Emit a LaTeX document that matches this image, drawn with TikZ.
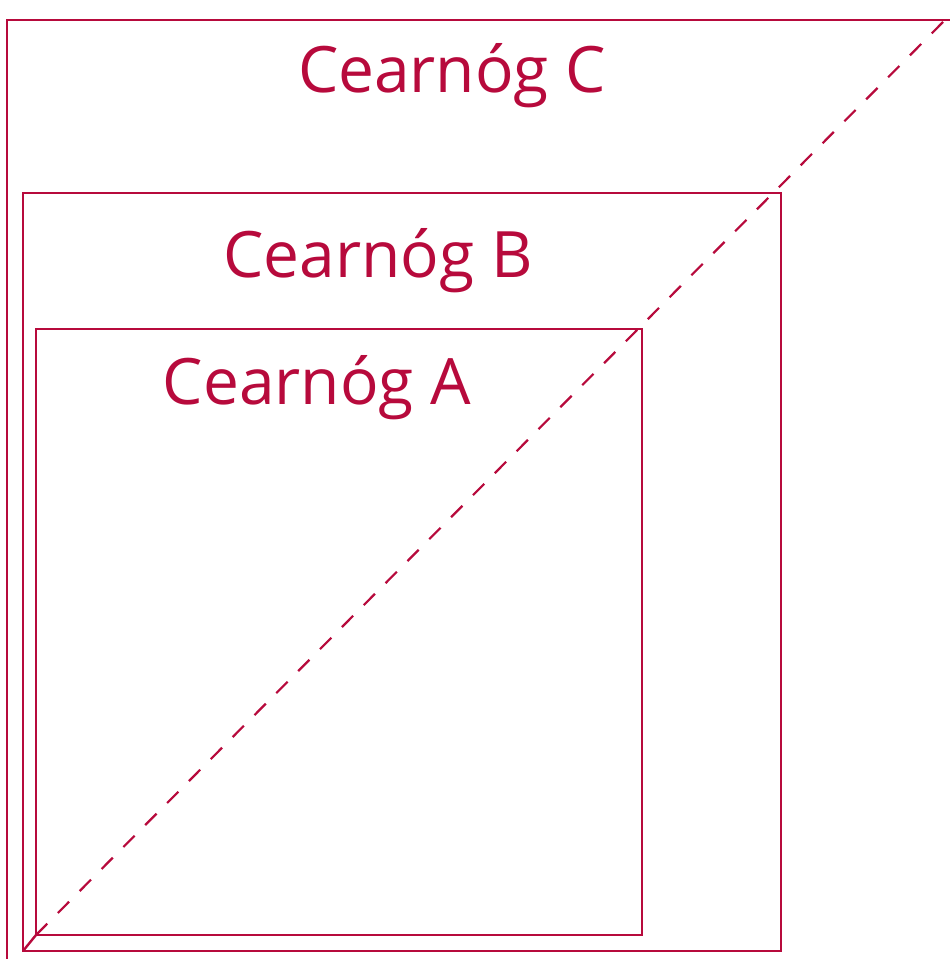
\documentclass[tikz,border=0pt]{standalone}
\usepackage{fontspec}
\setmainfont{Open Sans}
\definecolor{crim}{RGB}{183,10,60}
\tikzset{
  sq/.style={draw=crim, line width=2.4pt},
  lbl/.style={text=crim, font=\fontsize{64}{70}\selectfont, anchor=base, inner sep=0pt},
  diag/.style={draw=crim, line width=2.2pt, dash pattern=on 16pt off 15pt},
}
\begin{document}
\begin{tikzpicture}[x=1pt,y=-1pt]
\useasboundingbox (0,0) rectangle (950,959);
% corners
\coordinate (Cbl) at (7,980);
\coordinate (Ctr) at (960,20);
\coordinate (Bbl) at (23,951);
\coordinate (Btr) at (781,193);
\coordinate (Abl) at (36,935);
\coordinate (Atr) at (642,329);
\draw[sq] (Cbl) -- (7,20) -- (Ctr);
\draw[sq] (Bbl) rectangle (Btr);
\draw[sq] (Abl) rectangle (Atr);
\draw[sq] (Bbl) -- (Abl);
\coordinate (Cc) at (945,20);
\draw[diag] (Abl) -- (Cc);
\node[lbl] (tC) at (452,92) {Cearnóg C};
\node[lbl] (tB) at (378,277) {Cearnóg B};
\node[lbl] (tA) at (317,404) {Cearnóg A};
\end{tikzpicture}
\end{document}
